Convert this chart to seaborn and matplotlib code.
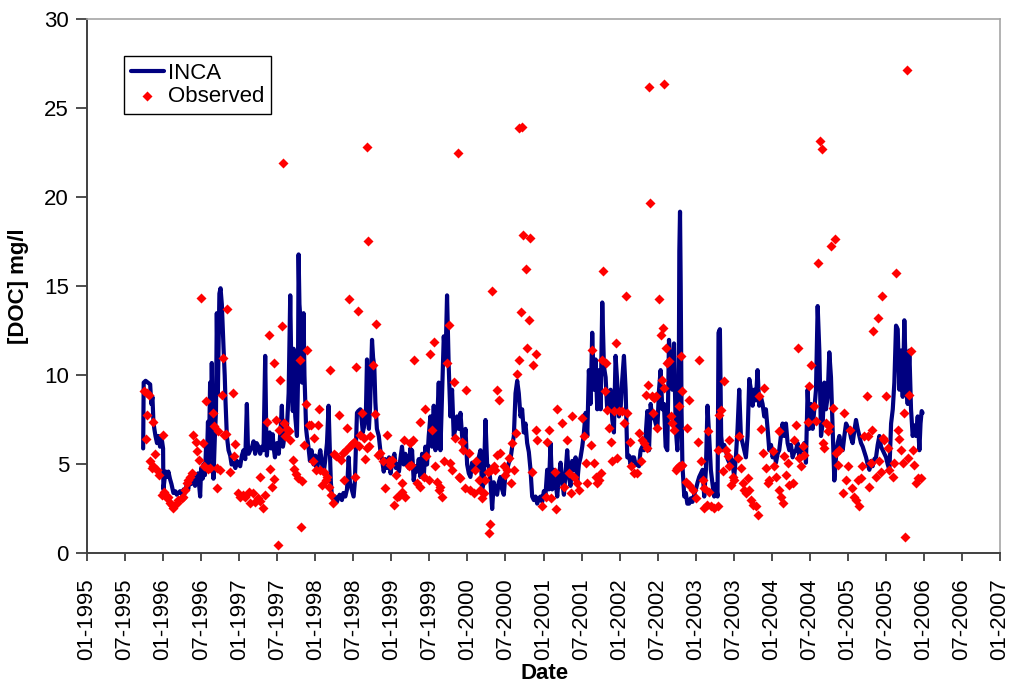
import matplotlib
matplotlib.use("Agg")
import matplotlib.pyplot as plt
import seaborn as sns

# Modelled DOC (INCA), decimal year and mg/l
inca_year = [
    1995.738, 1995.745, 1995.770, 1995.800, 1995.830, 1995.845, 1995.860, 1995.873, 1995.885, 1995.900,
    1995.920, 1995.940, 1995.960, 1995.980, 1996.000, 1996.004, 1996.020, 1996.035, 1996.048, 1996.070,
    1996.090, 1996.110, 1996.136, 1996.160, 1996.180, 1996.200, 1996.224, 1996.250, 1996.270, 1996.290,
    1996.311, 1996.330, 1996.350, 1996.370, 1996.400, 1996.420, 1996.440, 1996.460, 1996.487, 1996.500,
    1996.520, 1996.531, 1996.550, 1996.565, 1996.575, 1996.590, 1996.600, 1996.618, 1996.630, 1996.640,
    1996.650, 1996.662, 1996.680, 1996.695, 1996.706, 1996.720, 1996.740, 1996.755, 1996.772, 1996.785,
    1996.794, 1996.810, 1996.820, 1996.838, 1996.860, 1996.882, 1996.900, 1996.925, 1996.950, 1996.970,
    1997.000, 1997.013, 1997.035, 1997.057, 1997.080, 1997.101, 1997.115, 1997.125, 1997.145, 1997.170,
    1997.189, 1997.210, 1997.230, 1997.254, 1997.276, 1997.300, 1997.320, 1997.342, 1997.355, 1997.364,
    1997.380, 1997.400, 1997.420, 1997.440, 1997.452, 1997.470, 1997.496, 1997.520, 1997.545, 1997.561,
    1997.575, 1997.583, 1997.600, 1997.615, 1997.627, 1997.650, 1997.671, 1997.685, 1997.693, 1997.705,
    1997.715, 1997.727, 1997.737, 1997.759, 1997.772, 1997.781, 1997.792, 1997.803, 1997.815, 1997.825,
    1997.846, 1997.858, 1997.868, 1997.880, 1997.890, 1997.910, 1997.930, 1997.950, 1997.978, 1998.000,
    1998.020, 1998.040, 1998.066, 1998.090, 1998.110, 1998.130, 1998.154, 1998.175, 1998.190, 1998.205,
    1998.219, 1998.240, 1998.260, 1998.285, 1998.300, 1998.320, 1998.350, 1998.370, 1998.395, 1998.417,
    1998.439, 1998.455, 1998.480, 1998.504, 1998.520, 1998.535, 1998.548, 1998.565, 1998.592, 1998.610,
    1998.625, 1998.645, 1998.665, 1998.680, 1998.690, 1998.705, 1998.720, 1998.746, 1998.760, 1998.776,
    1998.790, 1998.810, 1998.835, 1998.855, 1998.880, 1998.900, 1998.920, 1998.943, 1998.970, 1998.990,
    1999.010, 1999.040, 1999.060, 1999.080, 1999.100, 1999.118, 1999.140, 1999.162, 1999.184, 1999.206,
    1999.228, 1999.250, 1999.265, 1999.272, 1999.294, 1999.316, 1999.338, 1999.360, 1999.382, 1999.404,
    1999.425, 1999.447, 1999.469, 1999.491, 1999.513, 1999.535, 1999.557, 1999.579, 1999.601, 1999.623,
    1999.645, 1999.667, 1999.689, 1999.711, 1999.732, 1999.754, 1999.776, 1999.798, 1999.820, 1999.842,
    1999.864, 1999.886, 1999.908, 1999.930, 1999.952, 1999.974, 1999.996, 2000.018, 2000.039, 2000.061,
    2000.083, 2000.105, 2000.127, 2000.149, 2000.171, 2000.193, 2000.215, 2000.237, 2000.259, 2000.281,
    2000.303, 2000.325, 2000.346, 2000.368, 2000.390, 2000.412, 2000.434, 2000.456, 2000.478, 2000.500,
    2000.522, 2000.544, 2000.566, 2000.588, 2000.610, 2000.632, 2000.654, 2000.675, 2000.697, 2000.719,
    2000.741, 2000.763, 2000.785, 2000.807, 2000.829, 2000.851, 2000.873, 2000.895, 2000.917, 2000.939,
    2000.961, 2000.983, 2001.004, 2001.026, 2001.048, 2001.070, 2001.092, 2001.114, 2001.136, 2001.158,
    2001.180, 2001.202, 2001.224, 2001.246, 2001.268, 2001.290, 2001.311, 2001.333, 2001.355, 2001.377,
    2001.399, 2001.421, 2001.443, 2001.465, 2001.487, 2001.509, 2001.531, 2001.553, 2001.575, 2001.596,
    2001.618, 2001.640, 2001.662, 2001.684, 2001.706, 2001.728, 2001.750, 2001.772, 2001.794, 2001.816,
    2001.838, 2001.860, 2001.882, 2001.904, 2001.925, 2001.947, 2001.969, 2001.991, 2002.013, 2002.035,
    2002.057, 2002.079, 2002.101, 2002.123, 2002.145, 2002.167, 2002.189, 2002.211, 2002.232, 2002.254,
    2002.276, 2002.298, 2002.320, 2002.342, 2002.364, 2002.386, 2002.408, 2002.430, 2002.452, 2002.474,
    2002.496, 2002.518, 2002.539, 2002.561, 2002.583, 2002.605, 2002.627, 2002.649, 2002.671, 2002.693,
    2002.715, 2002.737, 2002.759, 2002.776, 2002.785, 2002.794, 2002.803, 2002.814, 2002.825, 2002.850,
    2002.870, 2002.890, 2002.914, 2002.935, 2002.958, 2002.980, 2003.002, 2003.025, 2003.046, 2003.068,
    2003.090, 2003.112, 2003.134, 2003.155, 2003.177, 2003.199, 2003.221, 2003.243, 2003.265, 2003.287,
    2003.300, 2003.318, 2003.335, 2003.353, 2003.375, 2003.397, 2003.420, 2003.441, 2003.462, 2003.484,
    2003.506, 2003.528, 2003.550, 2003.572, 2003.594, 2003.616, 2003.638, 2003.660, 2003.682, 2003.704,
    2003.726, 2003.748, 2003.769, 2003.791, 2003.813, 2003.835, 2003.857, 2003.879, 2003.901, 2003.923,
    2003.945, 2003.967, 2003.990, 2004.011, 2004.033, 2004.055, 2004.077, 2004.098, 2004.120, 2004.142,
    2004.164, 2004.186, 2004.208, 2004.230, 2004.252, 2004.274, 2004.296, 2004.318, 2004.340, 2004.362,
    2004.384, 2004.405, 2004.427, 2004.449, 2004.471, 2004.493, 2004.515, 2004.537, 2004.559, 2004.581,
    2004.603, 2004.625, 2004.647, 2004.669, 2004.691, 2004.712, 2004.734, 2004.756, 2004.778, 2004.800,
    2004.822, 2004.844, 2004.866, 2004.888, 2004.910, 2004.932, 2004.954, 2004.976, 2004.998, 2005.019,
    2005.041, 2005.063, 2005.085, 2005.107, 2005.129, 2005.151, 2005.173, 2005.195, 2005.217, 2005.239,
    2005.261, 2005.283, 2005.305, 2005.326, 2005.348, 2005.370, 2005.392, 2005.414, 2005.436, 2005.458,
    2005.480, 2005.502, 2005.524, 2005.546, 2005.568, 2005.590, 2005.611, 2005.633, 2005.655, 2005.677,
    2005.699, 2005.721, 2005.742, 2005.764, 2005.786, 2005.808, 2005.830, 2005.852, 2005.874, 2005.896,
    2005.918, 2005.940, 2005.955, 2005.970, 2005.982,
]
inca_doc = [
    5.9, 9.6, 9.7, 9.6, 9.5, 8.4, 8.8, 7.4, 7.0, 6.6,
    6.2, 6.6, 6.0, 6.5, 5.9, 3.6, 4.2, 4.6, 4.3, 4.6,
    4.2, 3.9, 3.4, 3.5, 3.3, 3.4, 3.5, 3.3, 3.6, 3.4,
    3.9, 3.6, 4.2, 3.9, 4.3, 3.8, 4.2, 4.5, 3.2, 4.8,
    4.2, 5.0, 4.4, 6.0, 5.2, 7.4, 5.0, 9.6, 6.0, 10.7,
    7.0, 4.2, 6.5, 8.0, 13.5, 9.0, 14.6, 14.9, 14.0, 12.5,
    11.6, 10.0, 8.6, 6.6, 5.8, 5.5, 5.0, 5.1, 4.8, 5.2,
    5.0, 4.9, 5.5, 5.8, 5.3, 8.4, 6.0, 5.6, 5.8, 6.0,
    6.3, 5.6, 6.2, 6.0, 5.6, 6.0, 5.8, 11.1, 7.0, 5.5,
    6.4, 6.8, 5.9, 6.7, 6.0, 5.4, 6.2, 5.6, 7.0, 8.3,
    6.0, 6.2, 7.1, 6.8, 7.0, 9.0, 14.5, 10.5, 9.6, 8.0,
    11.5, 9.0, 7.7, 6.6, 9.5, 16.8, 14.0, 13.3, 11.0, 9.6,
    13.5, 10.0, 8.6, 7.0, 6.6, 6.0, 5.2, 5.8, 5.0, 5.5,
    4.6, 5.2, 5.8, 5.0, 4.5, 5.2, 6.2, 8.3, 6.0, 4.0,
    3.2, 3.0, 3.2, 2.9, 3.1, 3.3, 3.0, 3.4, 3.2, 3.6,
    5.4, 4.0, 3.6, 3.2, 4.0, 6.0, 7.9, 8.0, 8.1, 7.5,
    6.8, 7.2, 7.8, 10.9, 8.5, 7.0, 8.2, 12.0, 11.0, 10.5,
    8.5, 7.0, 6.6, 5.8, 5.2, 4.6, 5.3, 4.8, 5.4, 4.5,
    5.1, 5.6, 4.8, 5.0, 4.6, 5.3, 6.0, 5.0, 5.6, 5.0,
    4.8, 5.9, 5.2, 5.8, 4.1, 4.9, 4.6, 5.3, 4.3, 5.6,
    4.2, 6.0, 5.0, 6.6, 7.7, 6.0, 8.3, 5.8, 7.3, 9.6,
    5.8, 9.0, 12.2, 10.7, 14.5, 10.5, 7.7, 9.2, 6.6, 7.0,
    7.7, 7.0, 7.9, 6.6, 5.8, 7.0, 5.0, 4.5, 4.3, 5.1,
    5.0, 4.6, 4.7, 5.4, 5.8, 3.6, 4.0, 7.5, 5.0, 4.9,
    4.0, 2.5, 4.0, 3.6, 3.3, 4.0, 4.3, 3.6, 3.3, 4.5,
    4.7, 5.1, 5.3, 6.0, 6.6, 9.0, 9.7, 9.0, 7.7, 8.1,
    6.8, 7.3, 6.2, 5.7, 4.7, 3.2, 3.0, 3.2, 2.8, 3.1,
    3.2, 2.9, 3.5, 3.3, 4.7, 3.6, 6.2, 3.6, 4.7, 4.0,
    3.2, 4.3, 5.1, 4.0, 3.3, 4.6, 5.8, 4.3, 3.8, 5.2,
    4.7, 5.4, 4.0, 5.0, 5.4, 6.0, 6.8, 7.9, 6.6, 10.3,
    8.4, 12.4, 9.2, 10.9, 8.1, 10.3, 8.1, 14.1, 10.5, 9.9,
    8.0, 9.0, 9.2, 7.5, 6.8, 11.1, 9.6, 7.7, 8.1, 9.8,
    11.1, 9.2, 5.4, 5.5, 5.0, 5.4, 5.4, 5.0, 5.0, 4.9,
    5.8, 6.0, 5.8, 6.6, 8.0, 5.8, 8.4, 7.6, 7.7, 7.3,
    7.0, 9.2, 10.3, 8.1, 8.4, 6.0, 5.8, 12.0, 10.3, 9.2,
    11.8, 7.1, 5.8, 8.0, 17.0, 19.2, 15.0, 8.0, 5.0, 3.2,
    3.4, 2.8, 2.8, 3.1, 2.9, 3.3, 3.6, 4.0, 4.3, 4.5,
    4.7, 3.2, 4.7, 8.3, 6.6, 4.7, 3.9, 3.2, 3.9, 3.2,
    12.4, 12.6, 6.6, 5.8, 6.1, 5.8, 5.3, 5.1, 5.4, 5.1,
    4.3, 5.4, 7.0, 9.2, 6.6, 6.2, 5.8, 5.4, 6.6, 9.8,
    9.2, 8.3, 9.2, 8.6, 10.3, 8.3, 8.8, 8.4, 7.7, 8.1,
    7.0, 5.8, 6.1, 5.4, 5.8, 5.1, 5.6, 5.8, 6.6, 7.3,
    6.6, 7.3, 6.2, 5.8, 6.1, 5.4, 5.7, 5.8, 6.2, 5.4,
    5.9, 5.8, 6.2, 5.1, 9.2, 7.0, 8.4, 7.0, 8.1, 9.2,
    13.9, 11.4, 6.6, 7.3, 9.6, 8.1, 8.8, 11.3, 9.9, 7.0,
    4.1, 5.4, 6.2, 6.6, 6.0, 5.8, 6.6, 7.3, 7.1, 7.0,
    6.5, 6.2, 6.9, 7.5, 7.0, 6.6, 6.2, 6.0, 5.7, 5.4,
    5.0, 4.7, 5.2, 4.9, 5.3, 5.4, 6.1, 6.6, 6.0, 5.8,
    5.6, 5.4, 5.0, 4.7, 7.3, 8.1, 9.6, 12.8, 12.6, 9.2,
    11.4, 8.8, 13.1, 9.9, 8.4, 11.4, 8.1, 6.6, 7.2, 6.6,
    7.7, 5.8, 7.3, 8.0, 7.9,
]

# Observed DOC samples, decimal year and mg/l
obs_year = [
    1995.750, 1995.785, 1995.820, 1995.790, 1995.864, 1995.776, 1996.004, 1995.895, 1995.829, 1995.851,
    1995.873, 1995.917, 1995.952, 1995.982, 1996.013, 1996.048, 1996.070, 1996.092, 1996.114, 1996.136,
    1996.180, 1996.202, 1996.246, 1996.268, 1996.311, 1996.333, 1996.355, 1996.377, 1996.289, 1996.399,
    1996.434, 1996.452, 1996.469, 1996.500, 1996.522, 1996.539, 1996.566, 1996.596, 1996.618, 1996.654,
    1996.675, 1996.706, 1996.715, 1996.728, 1996.750, 1996.772, 1996.785, 1996.794, 1996.829, 1996.846,
    1996.882, 1996.925, 1996.947, 1996.934, 1996.978, 1997.013, 1997.048, 1997.079, 1997.123, 1997.145,
    1997.180, 1997.211, 1997.241, 1997.276, 1997.311, 1997.333, 1997.280, 1997.364, 1997.386, 1997.408,
    1997.430, 1997.461, 1997.452, 1997.482, 1997.504, 1997.518, 1997.539, 1997.561, 1997.583, 1997.605,
    1997.627, 1997.649, 1997.671, 1997.702, 1997.724, 1997.746, 1997.772, 1997.794, 1997.811, 1997.825,
    1997.846, 1997.873, 1997.890, 1997.912, 1997.943, 1997.969, 1997.987, 1998.013, 1998.031, 1998.048,
    1998.066, 1998.088, 1998.110, 1998.136, 1998.154, 1998.180, 1998.206, 1998.232, 1998.197, 1998.241,
    1998.276, 1998.316, 1998.338, 1998.364, 1998.382, 1998.399, 1998.417, 1998.439, 1998.461, 1998.487,
    1998.504, 1998.526, 1998.535, 1998.557, 1998.575, 1998.592, 1998.614, 1998.636, 1998.658, 1998.680,
    1998.702, 1998.724, 1998.754, 1998.789, 1998.803, 1998.820, 1998.855, 1998.890, 1998.912, 1998.943,
    1998.965, 1998.987, 1999.009, 1999.031, 1999.057, 1999.075, 1999.101,
    1997.576, 1998.680, 1998.690,
    1999.303, 1999.504, 1999.557, 1999.373, 1999.447, 1999.171, 1999.285, 1999.250, 1999.535, 1999.255,
    1999.228, 1999.461, 1999.579, 1999.338, 1999.382, 1999.425, 1999.491, 1999.601, 1999.645, 1999.667,
    1999.623, 1999.140, 1999.184, 1999.145, 1999.689, 1999.732, 1999.754, 1999.829, 1999.776, 1999.798,
    1999.842, 1999.886, 1999.908, 1999.930, 1999.943, 1999.987, 2000.018, 1999.974, 2000.039, 2000.083,
    2000.118, 2000.105, 2000.149, 2000.171, 2000.193, 2000.215, 2000.237, 2000.268, 2000.311, 2000.281,
    2000.303, 2000.325, 2000.390, 2000.421, 2000.395, 2000.434, 2000.368, 2000.346, 2000.478, 2000.522,
    2000.500, 2000.544, 2000.566, 2000.588, 2000.610, 2000.632, 2000.654, 2000.675, 2000.706, 2000.807,
    2000.772, 2000.785, 2000.895, 2000.864, 2000.899, 2000.917, 2000.851, 2000.982, 2001.026, 2001.048,
    2001.070, 2001.092, 2001.158, 2001.180, 2001.145, 2001.246, 2001.268, 2001.311, 2001.333, 2001.377,
    2001.355, 2001.399, 2001.443, 2001.465, 2001.509, 2001.531, 2001.553, 2001.575, 2001.618, 2001.640,
    2001.662, 2001.684, 2001.706, 2001.728, 2001.750, 2001.772, 2001.781, 2001.816, 2001.803, 2001.860,
    2001.838, 2001.882, 2001.925, 2001.904, 2001.961, 2001.947, 2001.991, 2002.035, 2002.057, 2002.079,
    2002.101, 2002.136, 2002.145, 2002.189, 2002.232, 2002.254, 2002.276, 2002.298, 2002.320, 2002.342,
    2002.364, 2002.373, 2002.430, 2002.452, 2002.474, 2002.435, 2002.487, 2002.518, 2002.539, 2002.561,
    2002.575, 2002.583, 2002.605, 2002.627, 2002.649, 2002.671, 2002.693, 2002.715, 2002.737, 2002.759,
    2002.781,
    1999.877, 2000.678, 2000.718, 2000.731, 2000.823, 2002.387, 2002.584, 2002.400,
    2002.805, 2002.826, 2002.914, 2002.783, 2002.892, 2003.046, 2003.024, 2003.068, 2002.805, 2002.818,
    2002.870, 2002.914, 2002.958, 2003.002, 2003.090, 2003.112, 2003.177, 2003.112, 2003.155, 2003.199,
    2003.243, 2003.287, 2003.168, 2003.309, 2003.331, 2003.375, 2003.290, 2003.397, 2003.432, 2003.419,
    2003.353, 2003.441, 2003.484, 2003.463, 2003.507, 2003.550, 2003.572, 2003.594, 2003.616, 2003.682,
    2003.638, 2003.660, 2003.704, 2003.726, 2003.748, 2003.791, 2003.813, 2003.835, 2003.901, 2003.857,
    2003.879, 2003.923, 2003.945, 2003.967, 2004.011, 2004.033, 2004.055, 2004.090, 2004.098, 2004.120,
    2004.142, 2004.186, 2004.164, 2004.208, 2004.230, 2004.274, 2004.296, 2004.318, 2004.340, 2004.362,
    2004.383, 2004.405, 2004.427, 2004.471, 2004.493, 2004.515, 2004.559, 2004.581, 2004.612, 2004.669,
    2004.691, 2004.712, 2004.734, 2004.756, 2004.800, 2004.844, 2004.888, 2004.866, 2004.932, 2004.954,
    2004.976, 2004.998, 2005.029, 2005.055, 2005.085, 2005.107, 2005.151, 2005.129, 2005.173, 2005.186,
    2005.217, 2005.248, 2005.261, 2005.305, 2005.318, 2005.283, 2005.336, 2005.370, 2005.392, 2005.414,
    2005.436, 2005.449, 2005.458, 2005.480, 2005.502, 2005.524, 2005.546, 2005.590, 2005.612, 2005.634,
    2005.655, 2005.677, 2005.699, 2005.721, 2005.743, 2005.756, 2005.787, 2005.809, 2005.831, 2005.853,
    2005.875, 2005.897, 2005.919, 2005.963,
    2004.634, 2004.660, 2004.778, 2004.829, 2005.778,
]
obs_doc = [
    9.11, 9.01, 8.88, 7.76, 7.40, 6.43, 6.63, 5.58, 5.20, 4.79,
    4.92, 4.70, 4.42, 3.29, 3.48, 3.10, 3.20, 2.82, 2.73, 2.54,
    2.82, 3.01, 3.10, 3.20, 3.95, 4.13, 4.32, 4.51, 3.58, 6.67,
    6.24, 5.73, 5.26, 14.36, 6.20, 4.89, 8.58, 4.74, 4.79, 7.89,
    7.14, 4.79, 3.67, 6.86, 4.70, 8.92, 10.98, 6.67, 6.71, 13.74,
    4.55, 9.01, 6.16, 5.48, 3.39, 3.20, 3.29, 3.20, 3.48, 2.82,
    3.39, 2.92, 3.10, 2.97, 2.54, 3.29, 4.28, 7.38, 12.30, 4.74,
    3.76, 10.70, 4.17, 7.48, 0.50, 6.95, 9.76, 12.77, 7.33, 6.58,
    6.99, 6.86, 6.39, 5.26, 4.74, 4.48, 4.23, 10.89, 1.51, 4.08,
    6.11, 8.39, 11.45, 7.23, 7.23, 5.17, 6.49, 4.70, 7.23, 8.11,
    4.70, 3.85, 4.60, 4.13, 4.32, 3.72, 3.29, 2.82, 10.28, 5.60,
    5.45, 7.76, 5.26, 5.64, 4.13, 5.82, 7.04, 14.27, 6.01, 6.15,
    6.24, 4.32, 10.48, 13.61, 6.01, 6.67, 7.89, 6.49, 5.32, 5.92,
    6.01, 6.58, 10.57, 7.83, 12.90, 5.54, 5.64, 5.17, 3.67, 6.67,
    5.17, 4.98, 5.26, 2.73, 4.42, 3.20, 3.24,
    21.95, 22.85, 17.55,
    10.89, 11.20, 11.87, 7.36, 8.11, 6.39, 6.39, 6.20, 6.95, 4.98,
    4.89, 5.48, 4.89, 3.95, 3.76, 4.32, 4.13, 4.04, 3.76, 3.20,
    3.58, 3.95, 3.20, 3.48, 5.17, 10.70, 12.85, 9.61, 5.07, 4.70,
    6.49, 4.32, 4.23, 6.29, 5.82, 9.16, 5.64, 3.67, 3.58, 3.39,
    5.17, 4.70, 4.13, 3.58, 3.10, 3.39, 4.13, 4.60, 4.70, 1.13,
    1.66, 14.74, 9.20, 8.64, 5.54, 5.64, 4.70, 4.89, 4.89, 4.70,
    4.42, 5.36, 3.95, 6.20, 4.70, 6.76, 10.10, 10.89, 13.55, 13.10,
    16.00, 11.55, 11.20, 10.60, 6.95, 6.39, 4.60, 2.67, 3.20, 6.29,
    6.95, 3.10, 2.49, 8.11, 4.55, 7.33, 3.76, 6.39, 4.51, 7.70,
    3.39, 4.32, 3.95, 3.58, 7.61, 6.58, 5.07, 3.95, 6.11, 11.45,
    5.07, 4.32, 3.95, 4.13, 4.51, 10.89, 15.86, 10.70, 9.11, 7.04,
    8.04, 6.24, 7.98, 5.17, 5.36, 11.83, 7.98, 7.98, 7.33, 14.46,
    7.89, 6.24, 4.89, 4.51, 4.51, 6.76, 5.17, 6.39, 6.20, 8.92,
    5.92, 9.48, 8.83, 8.73, 8.83, 7.89, 7.04, 14.30, 12.30, 9.76,
    12.67, 9.29, 11.55, 10.70, 10.79, 7.70, 7.33, 6.95, 4.70, 4.80,
    4.89,
    22.48, 23.90, 23.95, 17.87, 17.75, 26.20, 26.40, 19.67,
    11.08, 9.11, 8.64, 8.26, 7.04, 10.89, 6.25, 5.17, 4.89, 4.98,
    4.04, 3.85, 3.58, 3.10, 4.13, 3.67, 3.48, 2.54, 2.73, 2.64,
    2.54, 2.64, 6.86, 7.79, 8.07, 9.67, 5.82, 5.82, 6.35, 5.45,
    4.66, 4.92, 4.32, 3.85, 4.13, 5.36, 6.58, 4.79, 3.95, 4.23,
    3.58, 3.39, 3.58, 3.01, 2.73, 2.64, 2.17, 8.83, 9.29, 7.00,
    5.64, 4.79, 3.95, 4.13, 5.73, 4.89, 4.32, 6.86, 3.58, 3.20,
    2.82, 4.42, 5.45, 5.07, 3.85, 3.95, 6.39, 7.23, 11.55, 5.36,
    4.89, 6.01, 5.54, 7.36, 9.39, 10.61, 8.26, 7.42, 16.33, 6.20,
    5.92, 7.33, 6.86, 7.14, 8.17, 5.64, 5.82, 4.98, 3.39, 7.89,
    4.13, 4.89, 6.95, 3.67, 3.20, 3.01, 2.64, 4.13, 4.23, 4.89,
    6.58, 8.83, 6.58, 5.07, 6.95, 3.76, 12.49, 4.32, 13.23, 5.17,
    4.60, 14.45, 6.49, 6.39, 8.83, 5.92, 4.70, 4.32, 5.07, 15.77,
    6.95, 6.43, 5.82, 5.07, 7.89, 0.91, 5.36, 8.92, 11.36, 5.82,
    4.98, 3.95, 4.23, 4.23,
    23.16, 22.70, 17.30, 17.64, 27.15,
]

# Axis ticks
year_ticks = [1995.0, 1995.5, 1996.0, 1996.5, 1997.0, 1997.5, 1998.0, 1998.5, 1999.0, 1999.5,
              2000.0, 2000.5, 2001.0, 2001.5, 2002.0, 2002.5, 2003.0, 2003.5, 2004.0, 2004.5,
              2005.0, 2005.5, 2006.0, 2006.5, 2007.0]
year_labels = ["01-1995", "07-1995", "01-1996", "07-1996", "01-1997", "07-1997", "01-1998",
               "07-1998", "01-1999", "07-1999", "01-2000", "07-2000", "01-2001", "07-2001",
               "01-2002", "07-2002", "01-2003", "07-2003", "01-2004", "07-2004", "01-2005",
               "07-2005", "01-2006", "07-2006", "01-2007"]
doc_ticks = [0, 5, 10, 15, 20, 25, 30]

sns.set_theme(style="ticks")
plt.rcParams["font.family"] = ["Liberation Sans", "DejaVu Sans"]

fig = plt.figure(figsize=(10.26, 6.85), dpi=100)
ax = fig.add_axes([0.0848, 0.192, 0.8899, 0.7796])

sns.lineplot(x=inca_year, y=inca_doc, ax=ax, color="#000080", linewidth=3.0,
             estimator=None, sort=False, label="INCA", zorder=2)
sns.scatterplot(x=obs_year, y=obs_doc, ax=ax, color="#ff0000", marker="D", s=26,
                linewidth=0, label="Observed", zorder=3)

ax.set_xlim(1995, 2007)
ax.set_ylim(0, 30)
ax.set_xticks(year_ticks)
ax.set_xticklabels(year_labels, rotation=90, fontsize=16, color="black")
ax.set_yticks(doc_ticks)
ax.set_yticklabels([str(t) for t in doc_ticks], fontsize=16, color="black")

ax.tick_params(axis="x", direction="out", length=6, width=1.3, color="#404040", pad=12)
ax.tick_params(axis="y", direction="out", length=8, width=1.3, color="#404040", pad=5)

for side in ("left", "bottom"):
    ax.spines[side].set_color("#404040")
    ax.spines[side].set_linewidth(1.4)
for side in ("top", "right"):
    ax.spines[side].set_color("#a6a6a6")
    ax.spines[side].set_linewidth(1.2)

ax.set_xlabel("Date", fontsize=16, fontweight="bold", color="black")
ax.xaxis.set_label_coords(0.5016, -0.205)
ax.set_ylabel("[DOC] mg/l", fontsize=16, fontweight="bold", color="black")
ax.yaxis.set_label_coords(-0.063, 0.5)

leg = ax.legend(loc="upper left", bbox_to_anchor=(0.0405, 0.9316), frameon=True,
                fancybox=False, edgecolor="black", framealpha=1, fontsize=16,
                handlelength=1.5, handletextpad=0.2, labelspacing=0.1,
                borderpad=0.3, borderaxespad=0)
leg.get_frame().set_linewidth(1.0)
for text in leg.get_texts():
    text.set_color("black")

fig.savefig("out.png", dpi=100)
